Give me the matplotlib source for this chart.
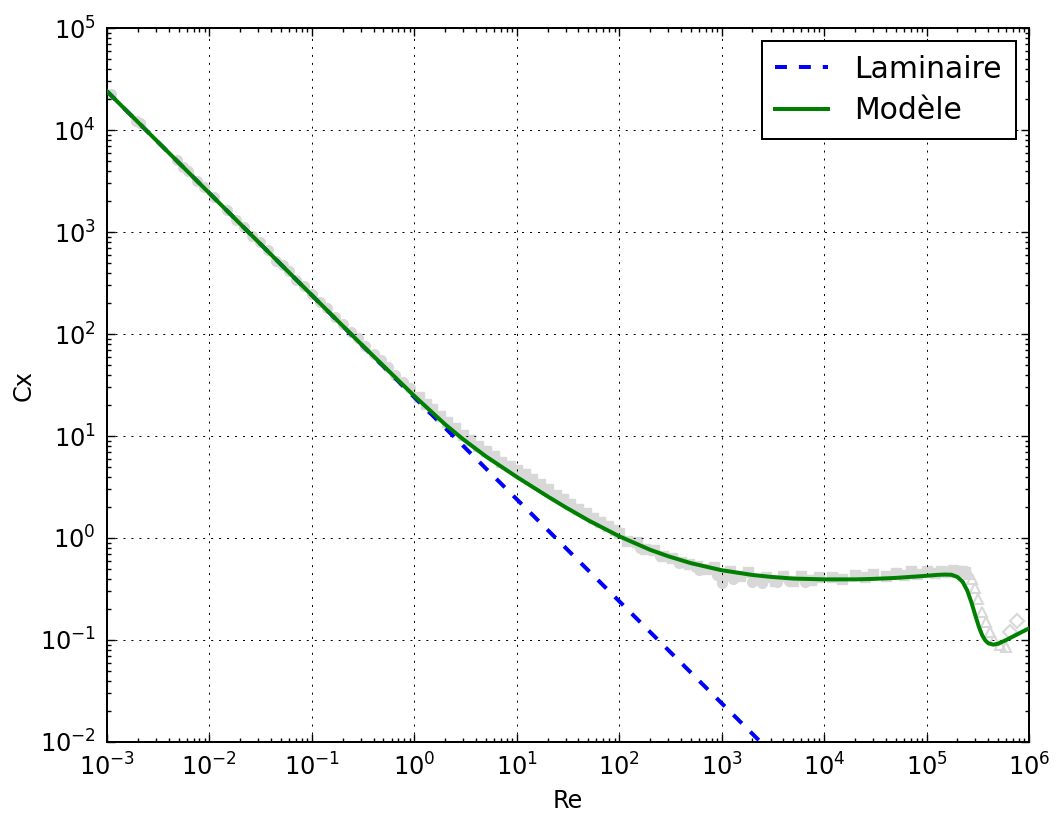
import matplotlib
matplotlib.use("Agg")
import matplotlib.pyplot as plt
from matplotlib.ticker import FixedLocator, LogFormatterSciNotation

plt.rcParams["font.family"] = ["DejaVu Sans"]
plt.rcParams["mathtext.fontset"] = "dejavusans"
plt.rcParams["lines.scale_dashes"] = False

# Drag model curve (Re, Cx)
model_re = [1e-3, 1e-2, 1e-1, 0.3, 1, 2, 3, 5, 10, 20, 30, 50, 100, 200, 300,
            500, 1e3, 2e3, 3e3, 5e3, 1e4, 2e4, 3e4, 5e4, 1e5, 1.25e5, 1.5e5,
            1.75e5, 2e5, 2.25e5, 2.5e5, 2.75e5, 3e5, 3.25e5, 3.5e5, 3.75e5,
            4e5, 4.5e5, 5e5, 6e5, 8e5, 1e6]
model_cx = [24000, 2400, 240.2, 80.3, 24.7, 13.0, 9.28, 6.31, 3.97, 2.56, 2.00,
            1.49, 1.04, 0.767, 0.663, 0.567, 0.483, 0.434, 0.416, 0.400, 0.393,
            0.393, 0.397, 0.406, 0.426, 0.434, 0.438, 0.436, 0.415, 0.372,
            0.305, 0.232, 0.173, 0.134, 0.111, 0.099, 0.093, 0.090, 0.092,
            0.100, 0.116, 0.130]

# Stokes (laminar) law
lam_re = [1e-3, 1e4]
lam_cx = [24000, 0.0024]

# Experimental measurements
stokes_re = [0.0011, 0.0019, 0.0021, 0.0048, 0.0055, 0.0062, 0.0075, 0.0088,
             0.011, 0.015, 0.018, 0.022, 0.026, 0.031, 0.037, 0.045, 0.052,
             0.06, 0.07, 0.083, 0.1, 0.12, 0.14, 0.17, 0.2, 0.24, 0.28, 0.33,
             0.4, 0.47, 0.55, 0.65, 0.78, 0.9]
stokes_cx = [22500, 12300, 11600, 5100, 4300, 3950, 3150, 2780, 2200, 1640,
             1310, 1120, 905, 800, 660, 520, 478, 412, 338, 298, 246, 205, 178,
             146, 126, 104, 91, 77, 64, 55, 47, 40, 33.5, 29.5]

inter_re = [1.1, 1.3, 1.5, 1.8, 2.1, 2.5, 3.0, 3.5, 4.2, 5, 6, 7, 8.5, 10, 12,
            14, 17, 20, 24, 28, 33, 40, 47, 55, 65, 78, 90]
inter_cx = [24, 20.8, 18.3, 15.6, 13.8, 11.9, 10.3, 9.1, 8.0, 7.2, 6.4, 5.6,
            5.1, 4.6, 4.2, 3.8, 3.35, 3.0, 2.65, 2.4, 2.15, 1.92, 1.74, 1.58,
            1.44, 1.3, 1.2]

sub_re = [100, 120, 150, 180, 220, 270, 330, 400, 480, 580, 700, 850, 1000,
          1200, 1500, 1800, 2200, 2700, 3300, 4000, 5000, 6000, 7500, 9000]
sub_cx = [1.12, 0.93, 0.92, 0.78, 0.77, 0.66, 0.64, 0.58, 0.56, 0.53, 0.50,
          0.52, 0.42, 0.47, 0.42, 0.46, 0.40, 0.41, 0.38, 0.42, 0.38, 0.42,
          0.39, 0.41]

sub2_re = [160, 250, 380, 600, 900, 1000, 1300, 2000, 2500, 3500, 4500, 6500]
sub2_cx = [0.80, 0.66, 0.57, 0.49, 0.43, 0.36, 0.40, 0.37, 0.36, 0.37, 0.38,
           0.37]

plateau_re = [1.2e4, 1.5e4, 2e4, 2.5e4, 3e4, 4e4, 5e4, 6e4, 7e4, 8e4, 1e5,
              1.2e5, 1.4e5, 1.6e5, 1.8e5, 2e5, 2.2e5, 2.4e5]
plateau_cx = [0.41, 0.40, 0.43, 0.41, 0.44, 0.42, 0.45, 0.43, 0.47, 0.44, 0.47,
              0.45, 0.48, 0.46, 0.49, 0.47, 0.48, 0.46]

crit_re = [2.6e5, 2.8e5, 3.0e5, 3.2e5, 3.5e5, 3.8e5, 4.2e5, 4.6e5, 5.2e5, 6e5]
crit_cx = [0.44, 0.40, 0.32, 0.25, 0.19, 0.15, 0.12, 0.10, 0.09, 0.085]

super_re = [6.5e5, 7.7e5]
super_cx = [0.12, 0.155]

# Axis decades
x_decades = [-3, -2, -1, 0, 1, 2, 3, 4, 5, 6]
y_decades = [-2, -1, 0, 1, 2, 3, 4, 5]

fig = plt.figure(figsize=(10.56, 8.15), dpi=100)
ax = fig.add_axes([0.1013, 0.0896, 0.8731, 0.8760])

gray = "#d8d8d8"
# dense measurement clouds: filled markers
for xs, ys, mk in [(stokes_re, stokes_cx, "o"), (inter_re, inter_cx, "s"),
                   (sub_re, sub_cx, "s"), (sub2_re, sub2_cx, "o"),
                   (plateau_re, plateau_cx, "s")]:
    ax.plot(xs, ys, linestyle="none", marker=mk, markersize=7,
            markerfacecolor=gray, markeredgecolor=gray, markeredgewidth=1.0,
            zorder=1)
# sparse points around the drag crisis: open markers
for xs, ys, mk in [(crit_re, crit_cx, "^"), (super_re, super_cx, "D")]:
    ax.plot(xs, ys, linestyle="none", marker=mk, markersize=7,
            markerfacecolor="none", markeredgecolor=gray, markeredgewidth=1.5,
            zorder=1)

ax.plot(lam_re, lam_cx, color="b", linewidth=2.88, dashes=(8.6, 8.6),
        label="Laminaire", zorder=3)
ax.plot(model_re, model_cx, color="g", linewidth=2.88, label="Modèle", zorder=4)

ax.set_xscale("log")
ax.set_yscale("log")
ax.set_xlim(10.0 ** x_decades[0], 10.0 ** x_decades[-1])
ax.set_ylim(10.0 ** y_decades[0], 10.0 ** y_decades[-1])

ax.xaxis.set_major_locator(FixedLocator([10.0 ** k for k in x_decades]))
ax.yaxis.set_major_locator(FixedLocator([10.0 ** k for k in y_decades]))
ax.xaxis.set_minor_locator(FixedLocator(
    [m * 10.0 ** k for k in x_decades[:-1] for m in range(2, 10)]))
ax.yaxis.set_minor_locator(FixedLocator(
    [m * 10.0 ** k for k in y_decades[:-1] for m in range(2, 10)]))
ax.xaxis.set_major_formatter(LogFormatterSciNotation())
ax.yaxis.set_major_formatter(LogFormatterSciNotation())

ax.tick_params(which="both", direction="in", top=True, right=True,
               labelsize=17.3, width=1.0)
ax.tick_params(which="major", length=6, pad=8)
ax.tick_params(which="minor", length=3)
for s in ax.spines.values():
    s.set_linewidth(1.44)

ax.grid(True, which="major", color="k", linestyle=(0, (1.44, 4.3)),
        linewidth=0.72)

ax.set_xlabel("Re", fontsize=17.3, labelpad=6)
ax.set_ylabel("Cx", fontsize=17.3, labelpad=3)

leg = ax.legend(loc="upper right", fontsize=21.5, fancybox=False,
                framealpha=1, edgecolor="k", handlelength=1.75,
                handletextpad=0.9, borderaxespad=0.45, borderpad=0.45,
                labelspacing=0.42)
leg.get_frame().set_linewidth(1.44)

fig.savefig("out.png", dpi=100)
